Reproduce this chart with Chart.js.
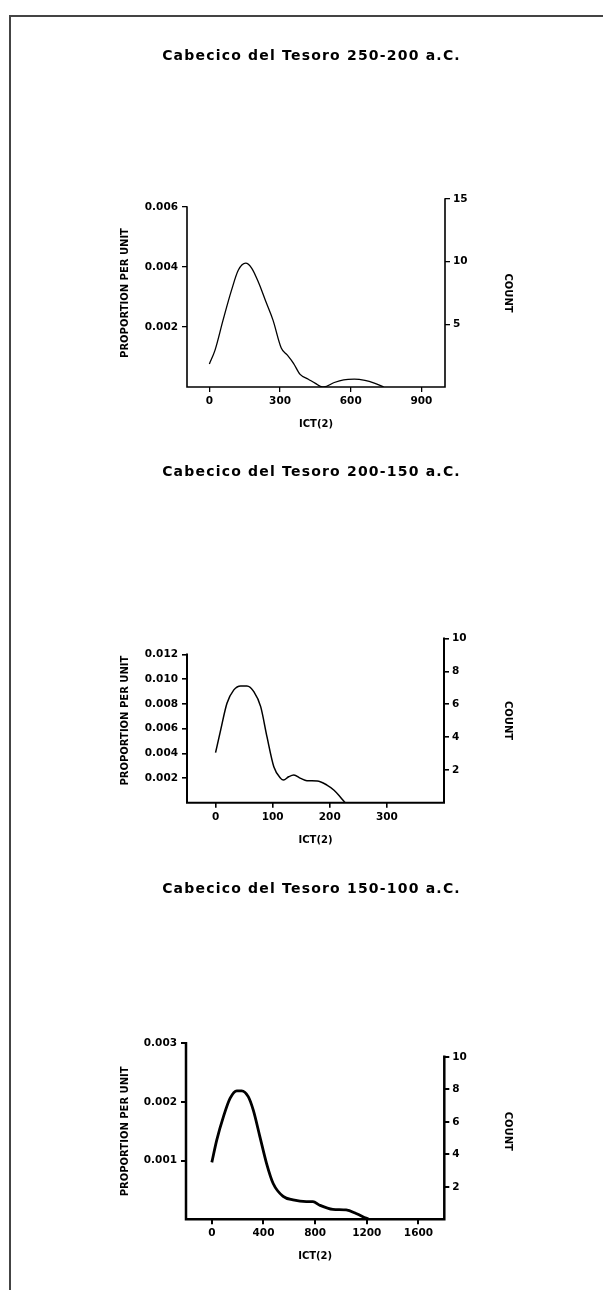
<!DOCTYPE html>
<html>
<head>
<meta charset="utf-8">
<script src="https://cdn.jsdelivr.net/npm/chart.js@4.4.1/dist/chart.umd.min.js"></script>
<style>
  html, body { margin: 0; padding: 0; background: #fff; }
  body { width: 603px; height: 1290px; position: relative; overflow: hidden; }
  .frame { position: absolute; left: 9px; top: 15px; width: 620px; height: 1300px;
           border-top: 2px solid #444; border-left: 2px solid #444; }
  canvas { position: absolute; left: 0; }
</style>
</head>
<body>
<div class="frame"></div>
<canvas id="c1" width="603" height="440" style="top:0px"></canvas>
<canvas id="c2" width="603" height="420" style="top:440px"></canvas>
<canvas id="c3" width="603" height="430" style="top:860px"></canvas>
<script>
// titles
const titles = [
  'Cabecico del Tesoro 250-200 a.C.',
  'Cabecico del Tesoro 200-150 a.C.',
  'Cabecico del Tesoro 150-100 a.C.'
];

// 250-200 a.C. density curve
const ict1 = [0, 24, 58, 94, 123, 154, 180, 210, 240, 270, 305, 330, 357, 385, 420, 450, 480, 486, 530, 570, 615, 660, 700, 740];
const prop1 = [0.00077, 0.00123, 0.00223, 0.00323, 0.0039, 0.00413, 0.00396, 0.00346, 0.00284, 0.00223, 0.0013, 0.00107, 0.00079, 0.00042, 0.00026, 0.00012, 0, 0, 0.00015, 0.00024, 0.00026, 0.00022, 0.00013, 0];

// 200-150 a.C.
const ict2 = [0, 9, 20, 32, 44, 55, 67, 79, 90, 102, 114, 119, 128, 137, 149, 160, 178, 195, 207, 218, 227];
const prop2 = [0.00405, 0.0059, 0.00805, 0.00914, 0.00946, 0.00946, 0.009, 0.00778, 0.00535, 0.00292, 0.00197, 0.00184, 0.0021, 0.00224, 0.00197, 0.00178, 0.00176, 0.00143, 0.00103, 0.00049, 0];

// 150-100 a.C.
const ict3 = [0, 38, 90, 141, 193, 231, 282, 321, 372, 424, 475, 552, 629, 732, 783, 835, 937, 1040, 1117, 1194, 1215];
const prop3 = [0.00097, 0.00135, 0.00175, 0.00206, 0.00219, 0.00219, 0.00209, 0.00186, 0.00141, 0.00095, 0.00061, 0.00039, 0.00033, 0.0003, 0.0003, 0.00024, 0.00017, 0.00016, 0.0001, 0.00002, 0];

// tick labels
const xTicks1 = [0, 300, 600, 900];
const yTicks1 = [0.002, 0.004, 0.006];
const countTicks1 = [5, 10, 15];

const xTicks2 = [0, 100, 200, 300];
const yTicks2 = [0.002, 0.004, 0.006, 0.008, 0.010, 0.012];
const countTicks2 = [2, 4, 6, 8, 10];

const xTicks3 = [0, 400, 800, 1200, 1600];
const yTicks3 = [0.001, 0.002, 0.003];
const countTicks3 = [2, 4, 6, 8, 10];

// axis ranges
const xRange1 = [-95, 1000], yMax1 = 0.00627, countMax1 = 15;
const xRange2 = [-50, 400], yMax2 = 0.0133, countMax2 = 10;
const xRange3 = [-200, 1800], yMax3 = 0.003, countMax3 = 10.83;

const font = 'DejaVu Sans';

// draws the axis lines only up to the last tick, like the original
const axisLines = {
  id: 'axisLines',
  afterDraw(chart, args, opts) {
    const { ctx, chartArea, scales } = chart;
    ctx.save();
    ctx.strokeStyle = '#000';
    ctx.lineWidth = opts.width;
    ctx.lineCap = 'square';
    ctx.beginPath();
    ctx.moveTo(chartArea.left, scales.y.getPixelForValue(opts.leftTop));
    ctx.lineTo(chartArea.left, chartArea.bottom);
    ctx.lineTo(chartArea.right, chartArea.bottom);
    ctx.moveTo(chartArea.right, chartArea.bottom);
    ctx.lineTo(chartArea.right, scales.y2.getPixelForValue(opts.rightTop));
    ctx.stroke();
    ctx.restore();
  }
};

const makeChart = (id, idx, xs, ys, xTicks, yTicks, cTicks, xRange, yMax, cMax, lay) => {
  const tickFont = { family: font, weight: 'bold', size: 10.5 };
  const titleFont = { family: font, weight: 'bold', size: 10, lineHeight: 1 };
  const gridOpts = { drawOnChartArea: false, drawTicks: true, tickLength: 5, color: '#000', lineWidth: lay.axis * 0.8 };

  const chart = new Chart(document.getElementById(id), {
    type: 'line',
    data: {
      datasets: [{
        data: xs.map((x, i) => ({ x: x, y: ys[i] })),
        borderColor: '#000',
        borderWidth: lay.line,
        pointRadius: 0,
        fill: false,
        cubicInterpolationMode: 'monotone',
        yAxisID: 'y'
      }]
    },
    options: {
      responsive: false,
      animation: false,
      devicePixelRatio: 1,
      events: [],
      layout: { padding: { left: 20, right: 0, top: 0, bottom: 0 } },
      plugins: {
        legend: { display: false },
        tooltip: { enabled: false },
        title: {
          display: true,
          text: titles[idx],
          color: '#000',
          font: { family: font, weight: 'bold', size: 14, lineHeight: 1 },
          padding: { top: lay.titleTop, bottom: lay.titleBottom }
        },
        axisLines: { width: lay.axis, leftTop: yTicks[yTicks.length - 1], rightTop: cTicks[cTicks.length - 1] }
      },
      scales: {
        x: {
          type: 'linear',
          min: xRange[0],
          max: xRange[1],
          afterBuildTicks: s => { s.ticks = xTicks.map(v => ({ value: v })); },
          afterFit: s => { s.height = lay.xHeight; },
          grid: gridOpts,
          border: { display: false },
          ticks: { color: '#000', font: tickFont, padding: 3, maxRotation: 0, callback: v => v },
          title: { display: true, text: 'ICT(2)', color: '#000', font: titleFont, padding: { top: 0, bottom: lay.xTitle } }
        },
        y: {
          position: 'left',
          min: 0,
          max: yMax,
          afterBuildTicks: s => { s.ticks = yTicks.map(v => ({ value: v })); },
          afterFit: s => { s.width = lay.leftW; },
          grid: gridOpts,
          border: { display: false },
          ticks: { color: '#000', font: tickFont, padding: 4, callback: v => v.toFixed(3) },
          title: { display: true, text: 'PROPORTION PER UNIT', color: '#000', font: titleFont, padding: { top: 100, bottom: 0 } }
        },
        y2: {
          position: 'right',
          min: 0,
          max: cMax,
          afterBuildTicks: s => { s.ticks = cTicks.map(v => ({ value: v })); },
          afterFit: s => { s.width = lay.rightW; },
          grid: gridOpts,
          border: { display: false },
          ticks: { color: '#000', font: tickFont, padding: 3, callback: v => v },
          title: { display: true, text: 'COUNT', color: '#000', font: titleFont, padding: { top: 90, bottom: 0 } }
        }
      }
    },
    plugins: [axisLines]
  });

  // spread the title letters like the original print
  const tb = chart.titleBlock;
  const drawTitle = tb.draw.bind(tb);
  tb.draw = () => {
    chart.ctx.save();
    chart.ctx.letterSpacing = '1.2px';
    drawTitle();
    chart.ctx.restore();
  };
  chart.draw();
  return chart;
};

makeChart('c1', 0, ict1, prop1, xTicks1, yTicks1, countTicks1, xRange1, yMax1, countMax1,
  { titleTop: 49, titleBottom: 136, xHeight: 53, xTitle: 11, leftW: 167, rightW: 158, line: 1.3, axis: 1.6 });
makeChart('c2', 1, ict2, prop2, xTicks2, yTicks2, countTicks2, xRange2, yMax2, countMax2,
  { titleTop: 25, titleBottom: 159.5, xHeight: 57.3, xTitle: 15, leftW: 167, rightW: 159, line: 1.5, axis: 2 });
makeChart('c3', 2, ict3, prop3, xTicks3, yTicks3, countTicks3, xRange3, yMax3, countMax3,
  { titleTop: 22, titleBottom: 147.3, xHeight: 70.7, xTitle: 28.5, leftW: 166, rightW: 158.7, line: 2.8, axis: 2.5 });
</script>
</body>
</html>
